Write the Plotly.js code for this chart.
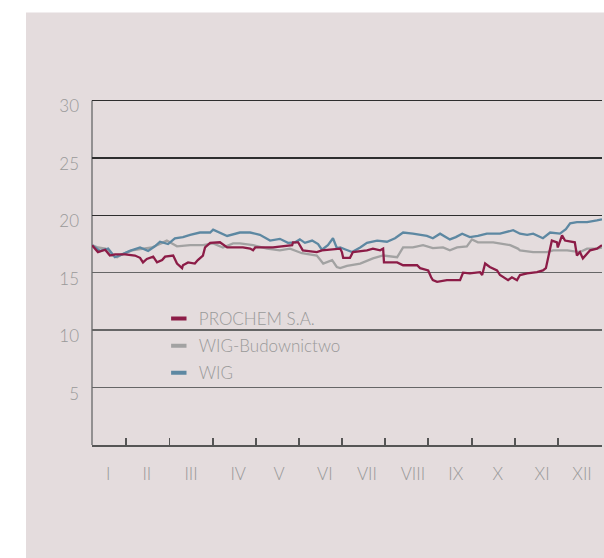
<!DOCTYPE html>
<html>
<head>
<meta charset="utf-8">
<script src="https://cdn.plot.ly/plotly-3.0.1.min.js"></script>
<style>html,body{margin:0;padding:0;background:#fff;}#chart{width:604px;height:558px;}</style>
</head>
<body>
<div id="chart"></div>
<script>
// ---- data (x in chart time units: 0 = first session, 12 = last session) ----
const monthLabels = ['I','II','III','IV','V','VI','VII','VIII','IX','X','XI','XII'];
const monthLabelPos = [0.38,1.29,2.33,3.44,4.4,5.48,6.47,7.55,8.56,9.55,10.59,11.53];
const monthEnds = [0.8,1.82,2.85,3.86,4.87,5.88,6.89,7.9,8.94,9.95,10.96,12];
const yTicks = [5,10,15,20,25,30];
const yTicksDark = [20,25,30];

const prochemX = [0,0.14,0.31,0.42,0.54,0.78,1.01,1.13,1.2,1.29,1.44,1.53,1.65,1.72,1.91,2.0,2.12,2.14,2.26,2.42,2.49,2.61,2.66,2.78,3.01,3.18,3.55,3.72,3.79,3.84,4.26,4.71,4.73,4.85,4.96,5.29,5.41,5.84,5.88,5.91,6.07,6.14,6.47,6.61,6.78,6.85,6.87,7.18,7.32,7.65,7.72,7.91,7.98,8.02,8.12,8.35,8.66,8.73,8.89,9.13,9.18,9.25,9.36,9.53,9.6,9.79,9.88,10.0,10.07,10.24,10.47,10.61,10.68,10.78,10.82,10.94,10.96,11.06,11.13,11.36,11.41,11.48,11.55,11.72,11.88,12];
const prochemY = [17.4,16.8,17.0,16.5,16.6,16.6,16.5,16.3,15.9,16.2,16.4,15.9,16.1,16.4,16.5,15.8,15.4,15.65,15.9,15.8,16.1,16.5,17.2,17.6,17.65,17.2,17.2,17.1,16.95,17.2,17.2,17.4,17.65,17.65,16.95,16.8,16.95,17.1,16.8,16.3,16.3,16.8,16.95,17.1,16.95,17.1,15.9,15.9,15.65,15.65,15.4,15.2,14.6,14.35,14.2,14.35,14.35,15.0,14.95,15.05,14.8,15.8,15.5,15.2,14.8,14.35,14.6,14.35,14.8,14.95,15.05,15.2,15.4,17.2,17.8,17.65,17.2,18.25,17.8,17.65,16.5,16.8,16.25,16.95,17.1,17.4];

const budX = [0,0.14,0.31,0.47,0.59,0.71,0.94,1.18,1.41,1.65,1.76,2.0,2.31,2.61,2.85,3.08,3.32,3.48,3.79,4.12,4.42,4.66,4.94,5.29,5.44,5.65,5.76,5.84,6.0,6.31,6.61,6.85,7.18,7.32,7.55,7.79,8.02,8.26,8.42,8.59,8.82,8.94,9.08,9.44,9.84,10.02,10.07,10.38,10.71,10.85,11.18,11.48,11.65,11.88,12];
const budY = [17.4,17.2,17.1,16.5,16.35,16.6,16.95,17.1,17.2,17.6,17.8,17.3,17.4,17.4,17.55,17.2,17.55,17.55,17.4,17.1,16.95,17.1,16.7,16.5,15.8,16.1,15.5,15.4,15.6,15.8,16.25,16.5,16.35,17.2,17.2,17.4,17.15,17.2,16.95,17.2,17.3,17.9,17.65,17.65,17.4,17.1,16.95,16.8,16.8,16.95,16.95,16.8,17.1,17.1,17.2];

const wigX = [0,0.19,0.38,0.54,0.71,0.89,1.13,1.32,1.48,1.6,1.79,1.95,2.14,2.31,2.54,2.78,2.85,3.01,3.18,3.48,3.72,3.95,4.19,4.42,4.61,4.78,4.89,5.01,5.18,5.32,5.41,5.55,5.67,5.76,5.84,5.98,6.12,6.31,6.47,6.71,6.94,7.13,7.32,7.55,7.72,7.88,8.02,8.19,8.42,8.56,8.71,8.89,9.08,9.29,9.6,9.91,10.07,10.24,10.38,10.61,10.78,11.01,11.15,11.25,11.41,11.65,11.88,12];
const wigY = [17.4,16.9,17.1,16.35,16.6,16.9,17.2,16.9,17.3,17.7,17.5,18.0,18.1,18.3,18.5,18.5,18.75,18.5,18.2,18.5,18.5,18.3,17.8,17.95,17.6,17.65,17.9,17.6,17.8,17.5,17.0,17.4,18.0,17.15,17.2,17.0,16.8,17.2,17.6,17.8,17.7,18.0,18.5,18.4,18.3,18.2,18.0,18.4,17.9,18.1,18.4,18.1,18.2,18.4,18.4,18.7,18.4,18.3,18.4,18.0,18.5,18.4,18.8,19.3,19.4,19.4,19.55,19.65];

const seriesNames = ['PROCHEM S.A.','WIG-Budownictwo','WIG'];
const seriesColors = ['#8c1c47','#a2a2a2','#5d88a2'];

// ---- chart ----
const FONT = 'Lato, "Open Sans", "DejaVu Sans", sans-serif';
const TXT = '#999999';
const series = [[prochemX,prochemY],[budX,budY],[wigX,wigY]];
const traces = [];
// placeholder on the base subplot so its axes are drawn
traces.push({type:'scatter', mode:'lines', x:[null], y:[null], xaxis:'x', yaxis:'y', showlegend:false, hoverinfo:'skip'});
// draw order: grey and blue first, crimson on top
[1,2,0].forEach(i => {
  traces.push({
    type:'scatter', mode:'lines', x:series[i][0], y:series[i][1],
    xaxis:'x2', yaxis:'y2', showlegend:false, hoverinfo:'skip',
    line:{color:seriesColors[i], width:2.3}
  });
});
seriesNames.forEach((n,i) => {
  traces.push({
    type:'scatter', mode:'markers', x:[null], y:[null], name:n,
    xaxis:'x2', yaxis:'y2', legendgroup:'g'+i,
    marker:{symbol:'line-ew', size:11, color:seriesColors[i], line:{width:4, color:seriesColors[i]}}
  });
});

const Y_RANGE = [0, 30.3];
const layout = {
  width:604, height:558,
  margin:{l:92, r:2, t:96.55, b:113},
  paper_bgcolor:'#ffffff',
  plot_bgcolor:'rgba(0,0,0,0)',
  font:{family:FONT, color:TXT, size:17, weight:300},
  showlegend:true,
  legend:{x:0.131, y:0.4138, xanchor:'left', yanchor:'top', bgcolor:'rgba(0,0,0,0)',
          font:{family:FONT, size:17, color:TXT, weight:300}, traceorder:'grouped', tracegroupgap:2, itemwidth:30},
  shapes:[
    {type:'rect', xref:'paper', yref:'paper', x0:-0.1294, x1:1.01, y0:-0.34, y1:1.2426,
     fillcolor:'#e4dcdd', line:{width:0}, layer:'below'},
    {type:'line', xref:'paper', yref:'y', x0:0, x1:0, y0:0, y1:30, line:{color:'#777', width:1.5}, layer:'below'}
  ],
  xaxis:{range:[0,12], tickvals:monthEnds, ticks:'inside', ticklen:7, tickwidth:1.5, tickcolor:'#555',
         showticklabels:false, showgrid:false, zeroline:false, showline:true, linecolor:'#555', linewidth:1.5, fixedrange:true},
  xaxis2:{range:[0,12], overlaying:'x', anchor:'y', side:'bottom', tickvals:monthLabelPos, ticktext:monthLabels,
          ticks:'', showgrid:false, zeroline:false, showline:false, ticklabelstandoff:17,
          tickfont:{family:FONT, size:17, color:TXT, weight:300}, fixedrange:true},
  yaxis:{range:Y_RANGE, tickvals:yTicks, ticktext:yTicks.map(String), ticks:'', showgrid:true, gridcolor:'#666', gridwidth:1.5,
         zeroline:false, showline:false, ticklabelstandoff:12, ticklabelshift:6,
         tickfont:{family:FONT, size:17, color:TXT, weight:300}, fixedrange:true},
  yaxis2:{range:Y_RANGE, overlaying:'y', anchor:'x', tickvals:yTicksDark, showticklabels:false, ticks:'',
          showgrid:true, gridcolor:'#2e2e2e', gridwidth:1.5, zeroline:false, showline:false, fixedrange:true}
};
Plotly.newPlot('chart', traces, layout, {displayModeBar:false, staticPlot:true});
</script>
</body>
</html>
